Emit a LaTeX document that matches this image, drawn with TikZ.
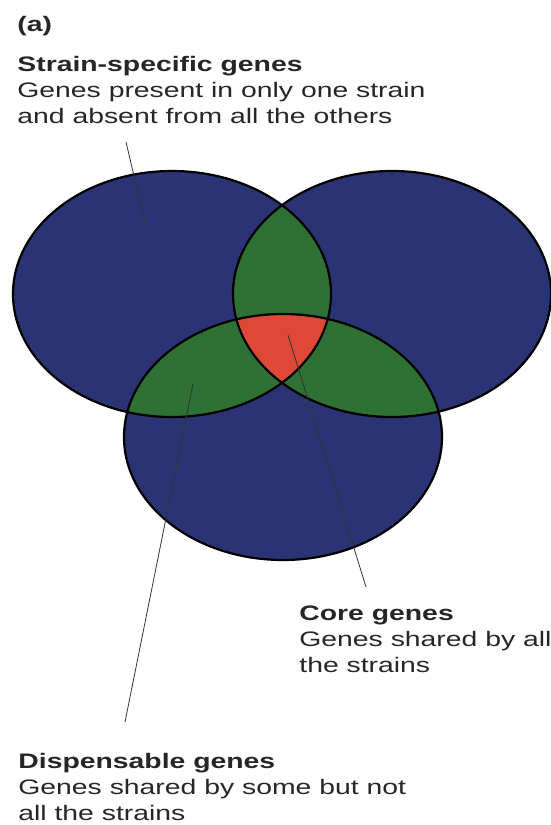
\documentclass[tikz,border=0pt]{standalone}
\usepackage{fontspec}
\setmainfont{Liberation Sans}[FakeStretch=1.35]
\definecolor{navy}{RGB}{42,51,115}
\definecolor{lens}{RGB}{47,112,52}
\definecolor{core}{RGB}{222,72,55}
\begin{document}
\begin{tikzpicture}[x=0.5pt, y=-0.5pt,
  ov/.style={draw=black, line width=1.1pt},
  ld/.style={draw=black!80, line width=0.4pt},
  lb/.style={font=\fontsize{10.5}{13}\selectfont, text=black!85, anchor=base west, inner sep=0pt, align=left}]
\useasboundingbox (0,0) rectangle (551,825);
% labels (base = last line)
\node[lb, font=\fontsize{10.5}{13}\selectfont\bfseries] (tag) at (17,31) {(a)};
\node[lb] (ss) at (17,123) {\textbf{Strain-specific genes}\\Genes present in only one strain\\and absent from all the others};
\node[lb] (cg) at (299,672) {\textbf{Core genes}\\Genes shared by all\\the strains};
\node[lb] (dg) at (18,820) {\textbf{Dispensable genes}\\Genes shared by some but not\\all the strains};
% three strains
\coordinate (cL) at (172,294);
\coordinate (cR) at (392,294);
\coordinate (cB) at (283,437);
\tikzset{ell/.style={x radius=79.5pt, y radius=61.5pt}}
\fill[navy] (cL) ellipse[ell] (cR) ellipse[ell] (cB) ellipse[ell];
\begin{scope}
  \clip (cL) ellipse[ell];
  \fill[lens] (cR) ellipse[ell] (cB) ellipse[ell];
\end{scope}
\begin{scope}
  \clip (cR) ellipse[ell];
  \fill[lens] (cB) ellipse[ell];
\end{scope}
\begin{scope}
  \clip (cL) ellipse[ell];
  \clip (cR) ellipse[ell];
  \fill[core] (cB) ellipse[ell];
\end{scope}
\draw[ov] (cL) ellipse[ell] (cR) ellipse[ell] (cB) ellipse[ell];
% leader lines
\coordinate (ssA) at (126,142);
\coordinate (ssB) at (145,223);
\coordinate (cgA) at (366,587);
\coordinate (cgB) at (288,335);
\coordinate (dgA) at (125,722);
\coordinate (dgB) at (193,384);
\draw[ld] (ssA) -- (ssB);
\draw[ld] (cgA) -- (cgB);
\draw[ld] (dgA) -- (dgB);
\end{tikzpicture}
\end{document}
